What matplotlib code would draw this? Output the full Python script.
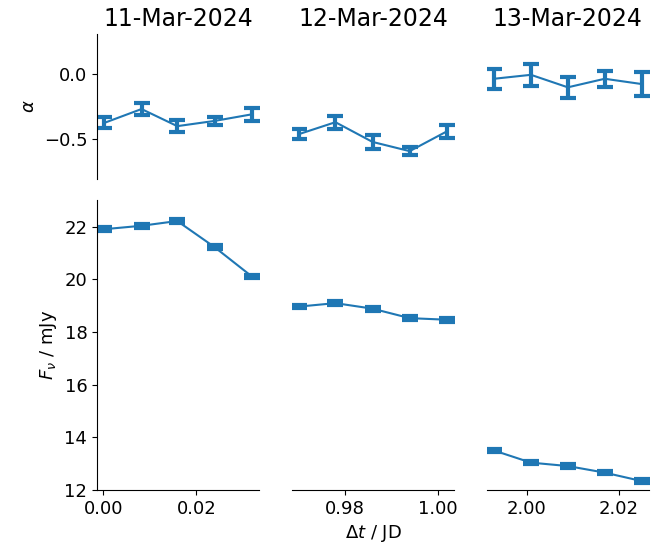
import matplotlib
matplotlib.use("Agg")
import matplotlib.pyplot as plt

# Observation nights
nights = ["11-Mar-2024", "12-Mar-2024", "13-Mar-2024"]

# Time offsets (JD) per night
dt_1 = [0.0002, 0.0082, 0.0159, 0.0240, 0.0320]
dt_2 = [0.9702, 0.9780, 0.9860, 0.9940, 1.0020]
dt_3 = [1.9929, 2.0009, 2.0089, 2.0169, 2.0249]

# Spectral index and uncertainty
alpha_1 = [-0.375, -0.27, -0.40, -0.36, -0.31]
alpha_err_1 = [0.041, 0.045, 0.047, 0.031, 0.050]
alpha_2 = [-0.46, -0.37, -0.52, -0.59, -0.44]
alpha_err_2 = [0.040, 0.050, 0.050, 0.033, 0.050]
alpha_3 = [-0.04, -0.01, -0.105, -0.04, -0.08]
alpha_err_3 = [0.078, 0.085, 0.080, 0.060, 0.090]

# Flux density (mJy) and uncertainty
flux_1 = [21.91, 22.04, 22.22, 21.22, 20.11]
flux_err_1 = [0.07, 0.07, 0.08, 0.07, 0.07]
flux_2 = [18.97, 19.10, 18.89, 18.53, 18.47]
flux_err_2 = [0.07, 0.08, 0.07, 0.07, 0.07]
flux_3 = [13.50, 13.04, 12.91, 12.66, 12.34]
flux_err_3 = [0.07, 0.07, 0.07, 0.07, 0.08]

dts = [dt_1, dt_2, dt_3]
alphas = [alpha_1, alpha_2, alpha_3]
alpha_errs = [alpha_err_1, alpha_err_2, alpha_err_3]
fluxes = [flux_1, flux_2, flux_3]
flux_errs = [flux_err_1, flux_err_2, flux_err_3]

plt.rcParams["font.size"] = 13
color = "#1f77b4"
eb_style = dict(color=color, capsize=5.8, capthick=3, elinewidth=3, lw=1.5)

fig, axes = plt.subplots(
    2, 3, figsize=(6.71, 5.56), dpi=100, sharey="row",
    gridspec_kw=dict(height_ratios=[1, 2]),
)
fig.subplots_adjust(left=0.1446, right=0.9672, top=0.9388, bottom=0.1187,
                    wspace=0.2, hspace=0.1)

for i in range(3):
    ax_a = axes[0, i]
    ax_f = axes[1, i]
    ax_a.errorbar(dts[i], alphas[i], yerr=alpha_errs[i], **eb_style)
    ax_f.errorbar(dts[i], fluxes[i], yerr=flux_errs[i], **eb_style)
    ax_a.set_title(nights[i], fontsize=17)

    for ax in (ax_a, ax_f):
        ax.spines["top"].set_visible(False)
        ax.spines["right"].set_visible(False)
    # upper row carries no x axis
    ax_a.spines["bottom"].set_visible(False)
    ax_a.tick_params(axis="x", bottom=False, labelbottom=False)
    ax_a.set_xlim(ax_f.get_xlim())
    if i > 0:
        for ax in (ax_a, ax_f):
            ax.spines["left"].set_visible(False)
            ax.tick_params(axis="y", left=False, labelleft=False)

axes[0, 0].set_ylim(-0.8, 0.3)
axes[0, 0].set_yticks([0.0, -0.5])
axes[1, 0].set_ylim(12, 23)
axes[1, 0].set_yticks([12, 14, 16, 18, 20, 22])

axes[1, 0].set_xticks([0.00, 0.02])
axes[1, 1].set_xticks([0.98, 1.00])
axes[1, 2].set_xticks([2.00, 2.02])

axes[0, 0].set_ylabel(r"$\alpha$")
axes[1, 0].set_ylabel(r"$F_\nu$ / mJy")
axes[1, 1].set_xlabel(r"$\Delta t$ / JD")

fig.savefig("out.png", dpi=100)
